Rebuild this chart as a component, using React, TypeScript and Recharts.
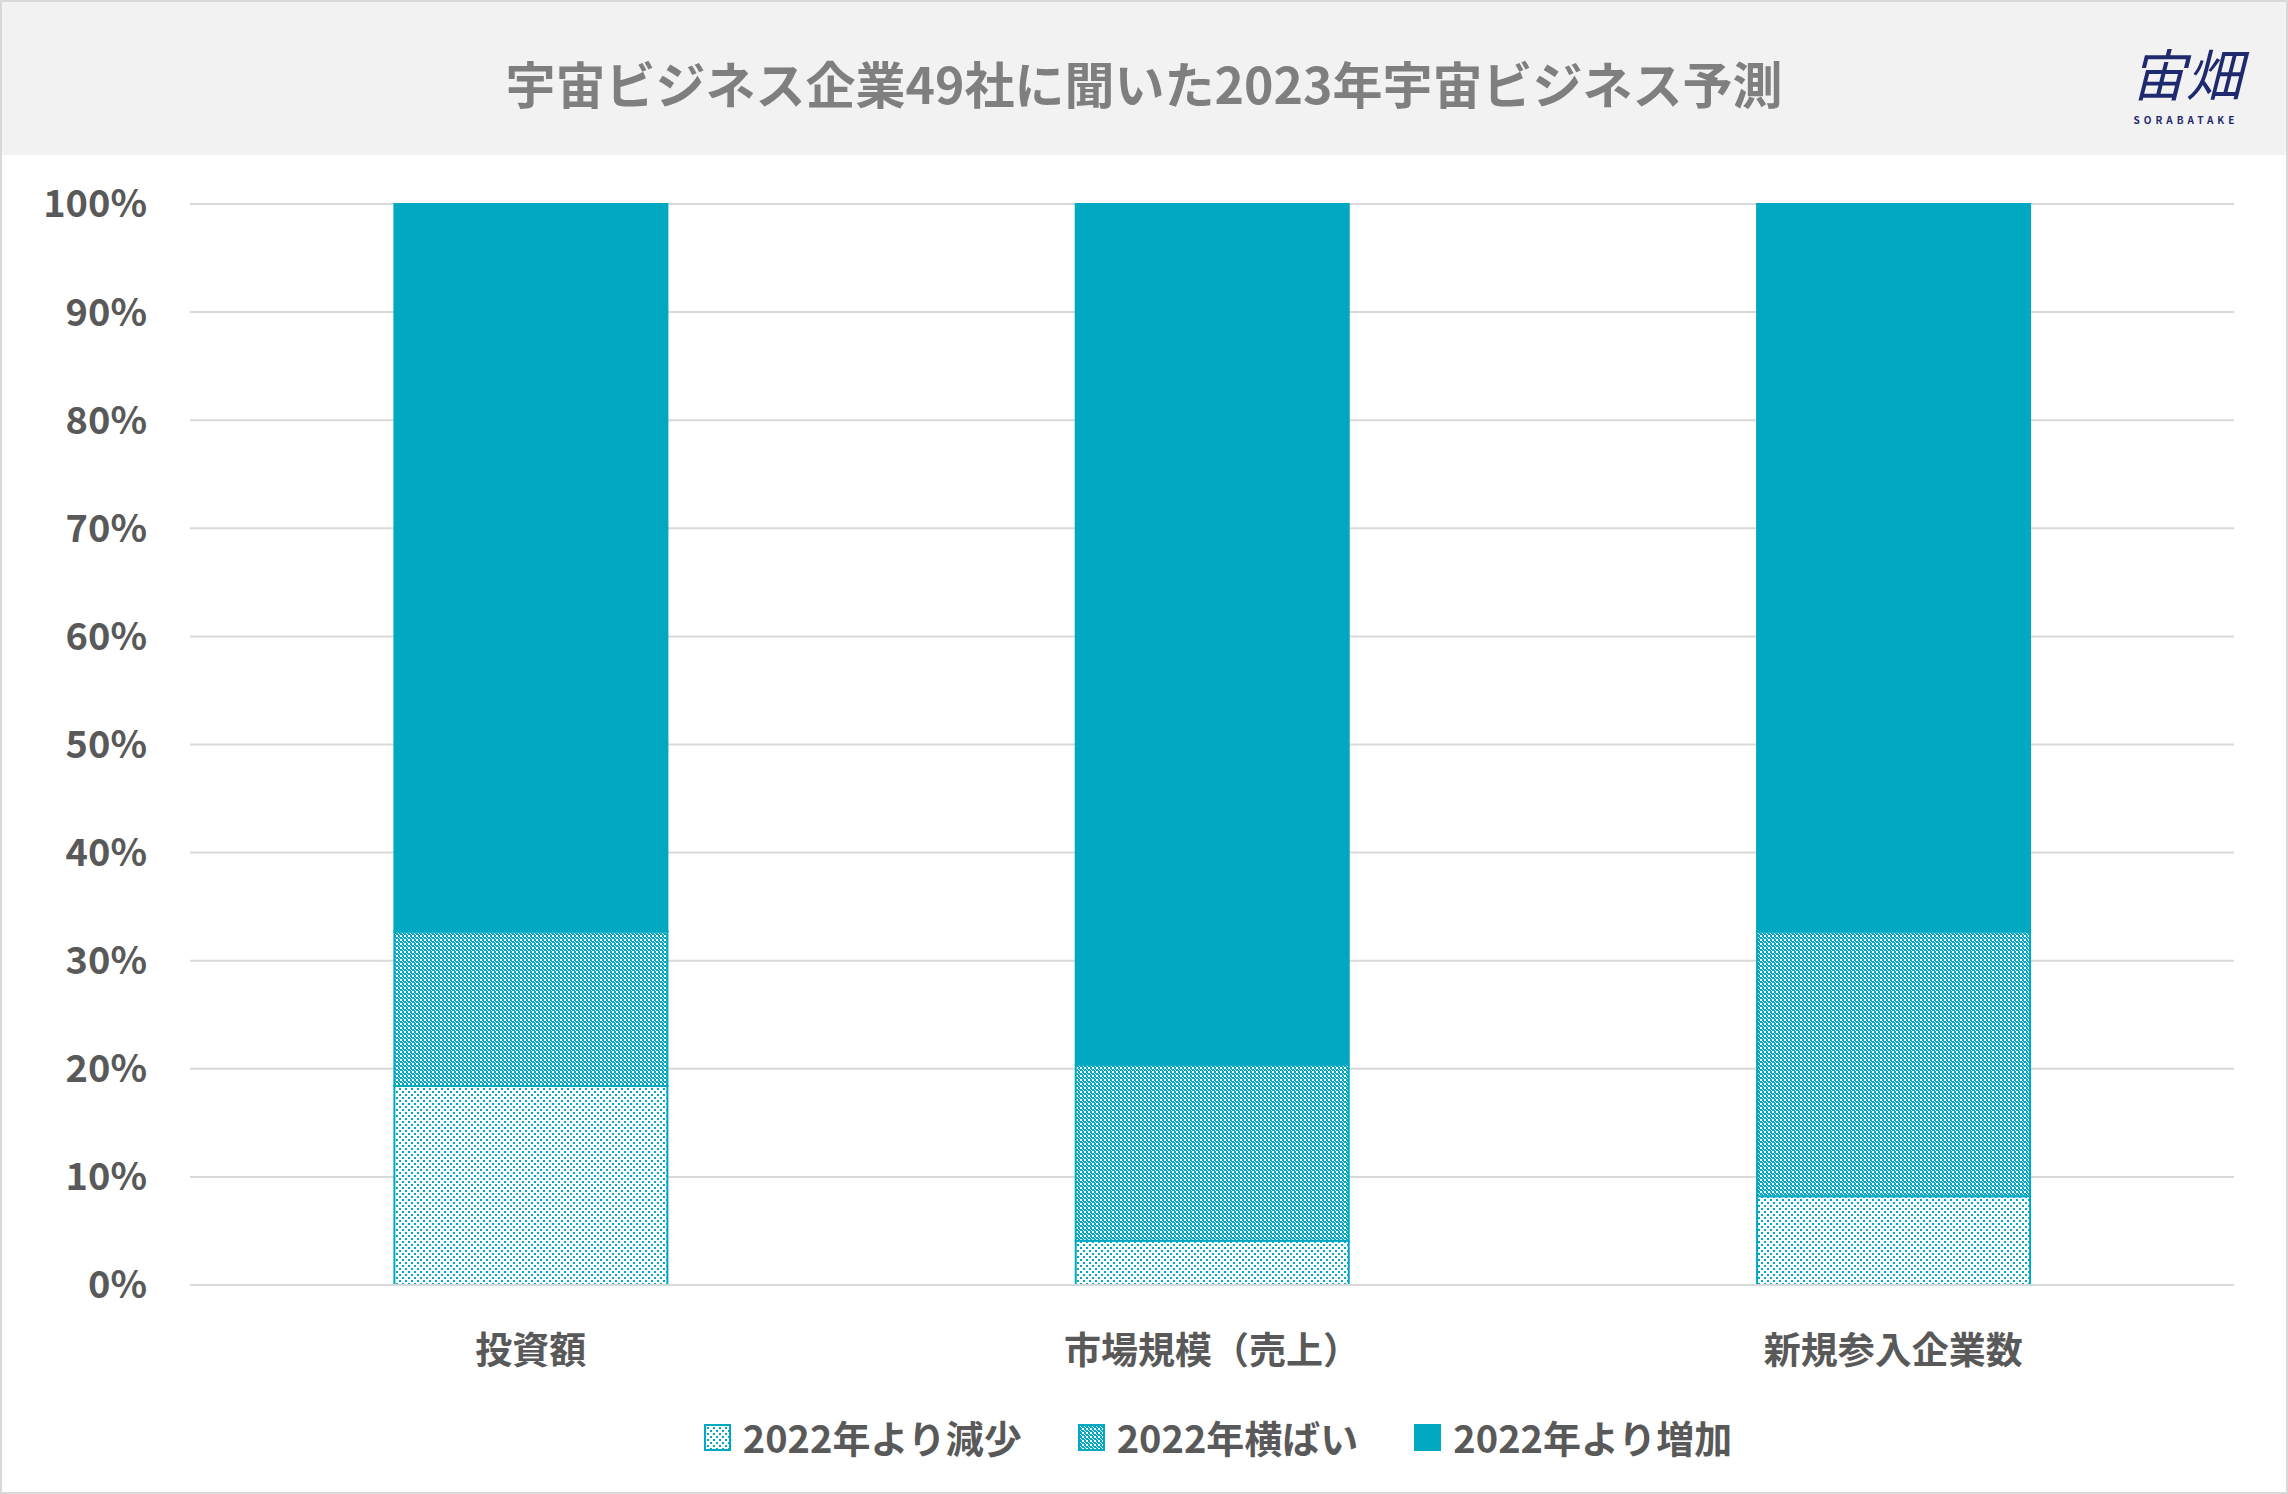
import React from "react";
import { Bar, BarChart, CartesianGrid, XAxis, YAxis } from "recharts";

const CATEGORIES = ["投資額", "市場規模（売上）", "新規参入企業数"];
// share of the 49 companies, in percent
const DECREASE = [18.4, 4.1, 8.2];
const FLAT = [14.3, 16.3, 24.5];
const INCREASE = [67.3, 79.6, 67.3];
const Y_TICKS = [0, 10, 20, 30, 40, 50, 60, 70, 80, 90, 100];

const TEAL = "#00A8C1";
const TEXT = "#595959";
const GRID = "#D9D9D9";
const FONT = '"Noto Sans CJK JP", "Noto Sans", sans-serif';

const SERIES = [
  { key: "decrease", label: "2022年より減少", pattern: "dots" },
  { key: "flat", label: "2022年横ばい", pattern: "checker" },
  { key: "increase", label: "2022年より増加", pattern: "solid" },
];

const data = CATEGORIES.map((name, i) => ({
  name,
  decrease: DECREASE[i],
  flat: FLAT[i],
  increase: INCREASE[i],
}));

function Patterns({ prefix }: { prefix: string }) {
  return (
    <defs>
      <pattern id={`${prefix}-dots`} width="6" height="6" patternUnits="userSpaceOnUse">
        <rect width="6" height="6" fill="#fff" />
        <rect x="0" y="0" width="2" height="2" fill={TEAL} />
        <rect x="3" y="3" width="2" height="2" fill={TEAL} />
      </pattern>
      <pattern id={`${prefix}-checker`} width="4" height="4" patternUnits="userSpaceOnUse">
        <rect width="4" height="4" fill={TEAL} />
        <rect x="0" y="0" width="2" height="2" fill="#fff" />
        <rect x="2" y="2" width="1" height="1" fill="#fff" />
        <rect x="3" y="3" width="1" height="1" fill="#fff" />
      </pattern>
    </defs>
  );
}

const fillFor = (prefix: string, pattern: string) =>
  pattern === "solid" ? TEAL : `url(#${prefix}-${pattern})`;

export default function App() {
  return (
    <div
      style={{
        position: "relative",
        width: 2288,
        height: 1494,
        boxSizing: "border-box",
        border: `2px solid ${GRID}`,
        background: "#fff",
        fontFamily: FONT,
        overflow: "hidden",
      }}
    >
      <style>{"body{margin:0}"}</style>

      {/* title band */}
      <div
        style={{
          position: "absolute",
          left: 0,
          top: 0,
          width: "100%",
          height: 153,
          background: "#F2F2F2",
        }}
      >
        <div
          style={{
            position: "absolute",
            left: 0,
            right: 0,
            top: 48,
            textAlign: "center",
            fontSize: 50,
            fontWeight: 700,
            color: "#7F7F7F",
            lineHeight: "64px",
          }}
        >
          宇宙ビジネス企業49社に聞いた2023年宇宙ビジネス予測
        </div>
        <div
          style={{
            position: "absolute",
            left: 2116,
            top: 42,
            width: 136,
            textAlign: "center",
            color: "#1F2A6E",
            fontSize: 56,
            lineHeight: "56px",
            fontStyle: "italic",
          }}
        >
          宙畑
        </div>
        <div
          style={{
            position: "absolute",
            left: 2116,
            top: 112,
            width: 136,
            textAlign: "center",
            color: "#1F2A6E",
            fontSize: 10,
            fontWeight: 700,
            letterSpacing: 4,
            lineHeight: "12px",
          }}
        >
          SORABATAKE
        </div>
      </div>

      {/* chart */}
      <div style={{ position: "absolute", left: -2, top: 153 }}>
        <BarChart
          width={2288}
          height={1242}
          data={data}
          margin={{ top: 49, right: 54, bottom: 0, left: 0 }}
          barCategoryGap="30%"
        >
          <Patterns prefix="bar" />
          <CartesianGrid vertical={false} stroke={GRID} strokeWidth={2} />
          <XAxis
            dataKey="name"
            height={112}
            axisLine={{ stroke: GRID, strokeWidth: 2 }}
            tickLine={false}
            tickSize={0}
            tickMargin={53}
            tick={{ fill: TEXT, fontSize: 37, fontWeight: 700, fontFamily: FONT }}
          />
          <YAxis
            width={190}
            domain={[0, 100]}
            ticks={Y_TICKS}
            axisLine={false}
            tickLine={false}
            tickSize={0}
            tickMargin={43}
            tickFormatter={(v: number) => `${v}%`}
            tick={{ fill: TEXT, fontSize: 38, fontWeight: 700, fontFamily: FONT }}
          />
          {SERIES.map((s) => (
            <Bar
              key={s.key}
              dataKey={s.key}
              stackId="a"
              fill={fillFor("bar", s.pattern)}
              stroke={TEAL}
              strokeWidth={2}
              isAnimationActive={false}
            />
          ))}
        </BarChart>
      </div>

      {/* legend */}
      <div
        style={{
          position: "absolute",
          left: 194,
          top: 1413,
          width: 2044,
          height: 44,
          display: "flex",
          justifyContent: "center",
          alignItems: "center",
          gap: 56,
        }}
      >
        {SERIES.map((s) => (
          <div key={s.key} style={{ display: "flex", alignItems: "center", gap: 12 }}>
            <svg width={27} height={27}>
              <Patterns prefix={`lg-${s.key}`} />
              <rect
                x={1}
                y={1}
                width={25}
                height={25}
                fill={fillFor(`lg-${s.key}`, s.pattern)}
                stroke={TEAL}
                strokeWidth={2}
              />
            </svg>
            <span style={{ fontSize: 38, fontWeight: 700, color: TEXT, lineHeight: "44px" }}>
              {s.label}
            </span>
          </div>
        ))}
      </div>
    </div>
  );
}
